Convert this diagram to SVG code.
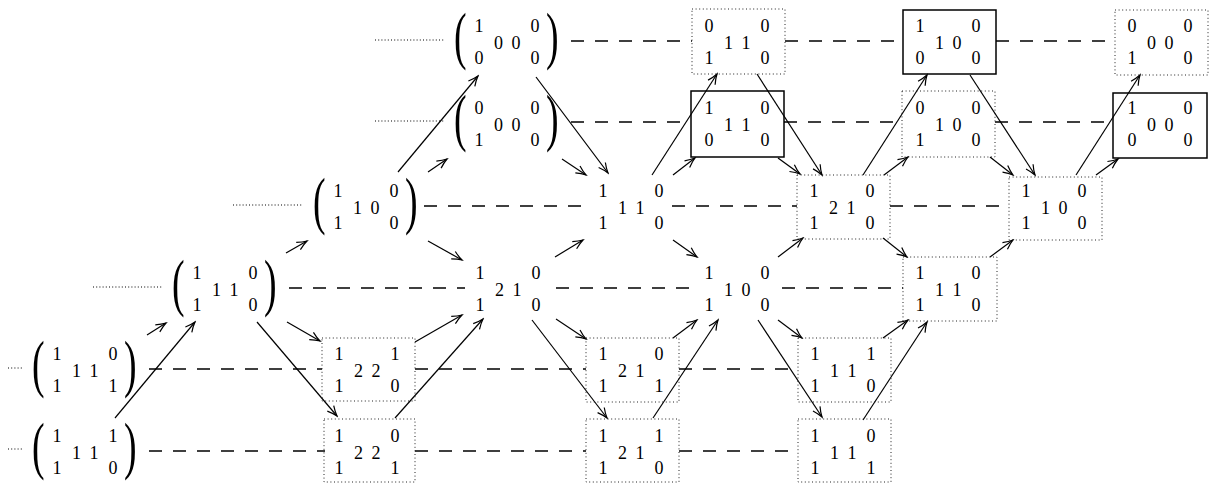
<svg xmlns="http://www.w3.org/2000/svg" width="1212" height="484" viewBox="0 0 1212 484">
<style>
.d{font-family:"Liberation Serif",serif;font-size:18px;text-anchor:middle;fill:#000}
.p{font-family:"Liberation Serif",serif;font-size:63px;fill:#000}
.dot{fill:none;stroke:#222;stroke-width:1;stroke-dasharray:1 2.6}
.sol{fill:none;stroke:#000;stroke-width:1.5}
.dash{stroke:#000;stroke-width:1.3;stroke-dasharray:13 11;fill:none}
.lead{stroke:#000;stroke-width:1.2;stroke-dasharray:1 2.2;fill:none}
.arr{stroke:#000;stroke-width:1.2;fill:none;marker-end:url(#ah)}
</style>
<defs>
<marker id="ah" viewBox="-11 -6 13 12" markerWidth="13" markerHeight="12" refX="0" refY="0" orient="auto" markerUnits="userSpaceOnUse">
<path d="M-10,-4.2 Q-4.5,-1.2 0,0 Q-4.5,1.2 -10,4.2" fill="none" stroke="#000" stroke-width="1.2"/>
</marker>
</defs>
<rect width="1212" height="484" fill="#fff"/>

<g id="leaders">
<line class="lead" x1="375" y1="40" x2="445" y2="40"/>
<line class="lead" x1="375" y1="121" x2="445" y2="121"/>
<line class="lead" x1="233" y1="205" x2="303" y2="205"/>
<line class="lead" x1="93" y1="287" x2="162" y2="287"/>
<line class="lead" x1="8" y1="368" x2="22" y2="368"/>
<line class="lead" x1="8" y1="449" x2="22" y2="449"/>
</g>

<g id="connectors">
<line class="dash" x1="571" y1="41" x2="692" y2="41"/>
<line class="dash" x1="785" y1="41" x2="902" y2="41"/>
<line class="dash" x1="996" y1="41" x2="1115" y2="41"/>
<line class="dash" x1="571" y1="122" x2="691" y2="122"/>
<line class="dash" x1="784" y1="122" x2="902" y2="122"/>
<line class="dash" x1="995" y1="122" x2="1113" y2="122"/>
<line class="dash" x1="424" y1="206" x2="588" y2="206"/>
<line class="dash" x1="672" y1="206" x2="797" y2="206"/>
<line class="dash" x1="890" y1="206" x2="1009" y2="206"/>
<line class="dash" x1="289" y1="288" x2="465" y2="288"/>
<line class="dash" x1="556" y1="288" x2="692" y2="288"/>
<line class="dash" x1="782" y1="288" x2="903" y2="288"/>
<line class="dash" x1="149" y1="369" x2="322" y2="369"/>
<line class="dash" x1="415" y1="369" x2="586" y2="369"/>
<line class="dash" x1="679" y1="369" x2="798" y2="369"/>
<line class="dash" x1="149" y1="451" x2="325" y2="451"/>
<line class="dash" x1="415" y1="451" x2="586" y2="451"/>
<line class="dash" x1="679" y1="451" x2="798" y2="451"/>

<line class="arr" x1="115" y1="418" x2="195" y2="322"/>
<line class="arr" x1="257" y1="322" x2="337" y2="416"/>
<line class="arr" x1="395" y1="418" x2="483" y2="319"/>
<line class="arr" x1="532" y1="320" x2="607" y2="418"/>
<line class="arr" x1="653" y1="418" x2="718" y2="320"/>
<line class="arr" x1="758" y1="320" x2="822" y2="417"/>
<line class="arr" x1="863" y1="420" x2="927" y2="322"/>
<line class="arr" x1="398" y1="172" x2="478" y2="76"/>
<line class="arr" x1="536" y1="77" x2="608" y2="173"/>
<line class="arr" x1="652" y1="175" x2="717" y2="74"/>
<line class="arr" x1="757" y1="74" x2="822" y2="175"/>
<line class="arr" x1="863" y1="175" x2="927" y2="75"/>
<line class="arr" x1="970" y1="75" x2="1035" y2="175"/>
<line class="arr" x1="1076" y1="175" x2="1140" y2="75"/>

<line class="arr" x1="147" y1="335" x2="166" y2="323"/>
<line class="arr" x1="415" y1="342" x2="462" y2="315"/>
<line class="arr" x1="673" y1="338" x2="697" y2="320"/>
<line class="arr" x1="883" y1="338" x2="908" y2="320"/>
<line class="arr" x1="286" y1="253" x2="307" y2="241"/>
<line class="arr" x1="555" y1="257" x2="583" y2="240"/>
<line class="arr" x1="778" y1="257" x2="803" y2="238"/>
<line class="arr" x1="990" y1="257" x2="1013" y2="240"/>
<line class="arr" x1="428" y1="172" x2="447" y2="159"/>
<line class="arr" x1="673" y1="175" x2="695" y2="158"/>
<line class="arr" x1="884" y1="175" x2="908" y2="157"/>
<line class="arr" x1="1096" y1="175" x2="1118" y2="159"/>
<line class="arr" x1="287" y1="322" x2="320" y2="341"/>
<line class="arr" x1="556" y1="319" x2="586" y2="339"/>
<line class="arr" x1="778" y1="320" x2="802" y2="338"/>
<line class="arr" x1="428" y1="241" x2="462" y2="260"/>
<line class="arr" x1="673" y1="240" x2="697" y2="257"/>
<line class="arr" x1="883" y1="238" x2="907" y2="257"/>
<line class="arr" x1="562" y1="159" x2="586" y2="175"/>
<line class="arr" x1="778" y1="158" x2="800" y2="174"/>
<line class="arr" x1="990" y1="157" x2="1013" y2="175"/>
</g>

<!-- Row A (c=42) -->
<g id="nA0">
<text class="p" transform="translate(454,57) scale(0.6,1)">(</text>
<text class="p" transform="translate(546,57) scale(0.6,1)">)</text>
<text class="d" x="479" y="32">1</text><text class="d" x="498.5" y="49">0</text><text class="d" x="516" y="49">0</text><text class="d" x="535" y="32">0</text>
<text class="d" x="479" y="64">0</text><text class="d" x="535" y="64">0</text>
</g>
<g id="nA1">
<rect class="dot" x="692" y="9" width="93" height="65"/>
<text class="d" x="709" y="32">0</text><text class="d" x="728.5" y="49">1</text><text class="d" x="746" y="49">1</text><text class="d" x="765" y="32">0</text>
<text class="d" x="709" y="64">1</text><text class="d" x="765" y="64">0</text>
</g>
<g id="nA2">
<rect class="sol" x="903" y="10" width="93" height="64"/>
<text class="d" x="920" y="32">1</text><text class="d" x="939.5" y="49">1</text><text class="d" x="957" y="49">0</text><text class="d" x="976" y="32">0</text>
<text class="d" x="920" y="64">0</text><text class="d" x="976" y="64">0</text>
</g>
<g id="nA3">
<rect class="dot" x="1115" y="10" width="93" height="65"/>
<text class="d" x="1132" y="32">0</text><text class="d" x="1151.5" y="49">0</text><text class="d" x="1169" y="49">0</text><text class="d" x="1188" y="32">0</text>
<text class="d" x="1132" y="64">1</text><text class="d" x="1188" y="64">0</text>
</g>

<!-- Row B (c=124) -->
<g id="nB0">
<text class="p" transform="translate(454,139) scale(0.6,1)">(</text>
<text class="p" transform="translate(546,139) scale(0.6,1)">)</text>
<text class="d" x="479" y="114">0</text><text class="d" x="498.5" y="131">0</text><text class="d" x="516" y="131">0</text><text class="d" x="535" y="114">0</text>
<text class="d" x="479" y="146">1</text><text class="d" x="535" y="146">0</text>
</g>
<g id="nB1">
<rect class="sol" x="691" y="91" width="93" height="66"/>
<text class="d" x="709" y="114">1</text><text class="d" x="728.5" y="131">1</text><text class="d" x="746" y="131">1</text><text class="d" x="765" y="114">0</text>
<text class="d" x="709" y="146">0</text><text class="d" x="765" y="146">0</text>
</g>
<g id="nB2">
<rect class="dot" x="902" y="91" width="93" height="66"/>
<text class="d" x="920" y="114">0</text><text class="d" x="939.5" y="131">1</text><text class="d" x="957" y="131">0</text><text class="d" x="976" y="114">0</text>
<text class="d" x="920" y="146">1</text><text class="d" x="976" y="146">0</text>
</g>
<g id="nB3">
<rect class="sol" x="1113" y="93" width="94" height="65"/>
<text class="d" x="1132" y="114">1</text><text class="d" x="1151.5" y="131">0</text><text class="d" x="1169" y="131">0</text><text class="d" x="1188" y="114">0</text>
<text class="d" x="1132" y="146">0</text><text class="d" x="1188" y="146">0</text>
</g>

<!-- Row C (c=207) -->
<g id="nC0">
<text class="p" transform="translate(313,222) scale(0.6,1)">(</text>
<text class="p" transform="translate(405,222) scale(0.6,1)">)</text>
<text class="d" x="338" y="197">1</text><text class="d" x="357.5" y="214">1</text><text class="d" x="375" y="214">0</text><text class="d" x="394" y="197">0</text>
<text class="d" x="338" y="229">1</text><text class="d" x="394" y="229">0</text>
</g>
<g id="nC1">
<text class="d" x="603" y="197">1</text><text class="d" x="622.5" y="214">1</text><text class="d" x="640" y="214">1</text><text class="d" x="659" y="197">0</text>
<text class="d" x="603" y="229">1</text><text class="d" x="659" y="229">0</text>
</g>
<g id="nC2">
<rect class="dot" x="797" y="175" width="93" height="64"/>
<text class="d" x="814" y="197">1</text><text class="d" x="833.5" y="214">2</text><text class="d" x="851" y="214">1</text><text class="d" x="870" y="197">0</text>
<text class="d" x="814" y="229">1</text><text class="d" x="870" y="229">0</text>
</g>
<g id="nC3">
<rect class="dot" x="1009" y="177" width="93" height="63"/>
<text class="d" x="1026" y="197">1</text><text class="d" x="1045.5" y="214">1</text><text class="d" x="1063" y="214">0</text><text class="d" x="1082" y="197">0</text>
<text class="d" x="1026" y="229">1</text><text class="d" x="1082" y="229">0</text>
</g>

<!-- Row D (c=289) -->
<g id="nD0">
<text class="p" transform="translate(172,304) scale(0.6,1)">(</text>
<text class="p" transform="translate(264,304) scale(0.6,1)">)</text>
<text class="d" x="197" y="279">1</text><text class="d" x="216.5" y="296">1</text><text class="d" x="234" y="296">1</text><text class="d" x="253" y="279">0</text>
<text class="d" x="197" y="311">1</text><text class="d" x="253" y="311">0</text>
</g>
<g id="nD1">
<text class="d" x="480" y="279">1</text><text class="d" x="499.5" y="296">2</text><text class="d" x="517" y="296">1</text><text class="d" x="536" y="279">0</text>
<text class="d" x="480" y="311">1</text><text class="d" x="536" y="311">0</text>
</g>
<g id="nD2">
<text class="d" x="709" y="279">1</text><text class="d" x="728.5" y="296">1</text><text class="d" x="746" y="296">0</text><text class="d" x="765" y="279">0</text>
<text class="d" x="709" y="311">1</text><text class="d" x="765" y="311">0</text>
</g>
<g id="nD3">
<rect class="dot" x="903" y="257" width="94" height="64"/>
<text class="d" x="920" y="279">1</text><text class="d" x="939.5" y="296">1</text><text class="d" x="957" y="296">1</text><text class="d" x="976" y="279">0</text>
<text class="d" x="920" y="311">1</text><text class="d" x="976" y="311">0</text>
</g>

<!-- Row E (c=370) -->
<g id="nE0">
<text class="p" transform="translate(32,385) scale(0.6,1)">(</text>
<text class="p" transform="translate(124,385) scale(0.6,1)">)</text>
<text class="d" x="57" y="360">1</text><text class="d" x="76.5" y="377">1</text><text class="d" x="94" y="377">1</text><text class="d" x="113" y="360">0</text>
<text class="d" x="57" y="392">1</text><text class="d" x="113" y="392">1</text>
</g>
<g id="nE1">
<rect class="dot" x="322" y="338" width="93" height="63"/>
<text class="d" x="339" y="360">1</text><text class="d" x="358.5" y="377">2</text><text class="d" x="376" y="377">2</text><text class="d" x="395" y="360">1</text>
<text class="d" x="339" y="392">1</text><text class="d" x="395" y="392">0</text>
</g>
<g id="nE2">
<rect class="dot" x="586" y="338" width="93" height="64"/>
<text class="d" x="603" y="360">1</text><text class="d" x="622.5" y="377">2</text><text class="d" x="640" y="377">1</text><text class="d" x="659" y="360">0</text>
<text class="d" x="603" y="392">1</text><text class="d" x="659" y="392">1</text>
</g>
<g id="nE3">
<rect class="dot" x="798" y="338" width="93" height="64"/>
<text class="d" x="815" y="360">1</text><text class="d" x="834.5" y="377">1</text><text class="d" x="852" y="377">1</text><text class="d" x="871" y="360">1</text>
<text class="d" x="815" y="392">1</text><text class="d" x="871" y="392">0</text>
</g>

<!-- Row F (c=452) -->
<g id="nF0">
<text class="p" transform="translate(32,467) scale(0.6,1)">(</text>
<text class="p" transform="translate(124,467) scale(0.6,1)">)</text>
<text class="d" x="57" y="442">1</text><text class="d" x="76.5" y="459">1</text><text class="d" x="94" y="459">1</text><text class="d" x="113" y="442">1</text>
<text class="d" x="57" y="474">1</text><text class="d" x="113" y="474">0</text>
</g>
<g id="nF1">
<rect class="dot" x="324" y="419" width="91" height="63"/>
<text class="d" x="339" y="442">1</text><text class="d" x="358.5" y="459">2</text><text class="d" x="376" y="459">2</text><text class="d" x="395" y="442">0</text>
<text class="d" x="339" y="474">1</text><text class="d" x="395" y="474">1</text>
</g>
<g id="nF2">
<rect class="dot" x="586" y="419" width="93" height="63"/>
<text class="d" x="603" y="442">1</text><text class="d" x="622.5" y="459">2</text><text class="d" x="640" y="459">1</text><text class="d" x="659" y="442">1</text>
<text class="d" x="603" y="474">1</text><text class="d" x="659" y="474">0</text>
</g>
<g id="nF3">
<rect class="dot" x="798" y="419" width="93" height="63"/>
<text class="d" x="815" y="442">1</text><text class="d" x="834.5" y="459">1</text><text class="d" x="852" y="459">1</text><text class="d" x="871" y="442">0</text>
<text class="d" x="815" y="474">1</text><text class="d" x="871" y="474">1</text>
</g>
</svg>
